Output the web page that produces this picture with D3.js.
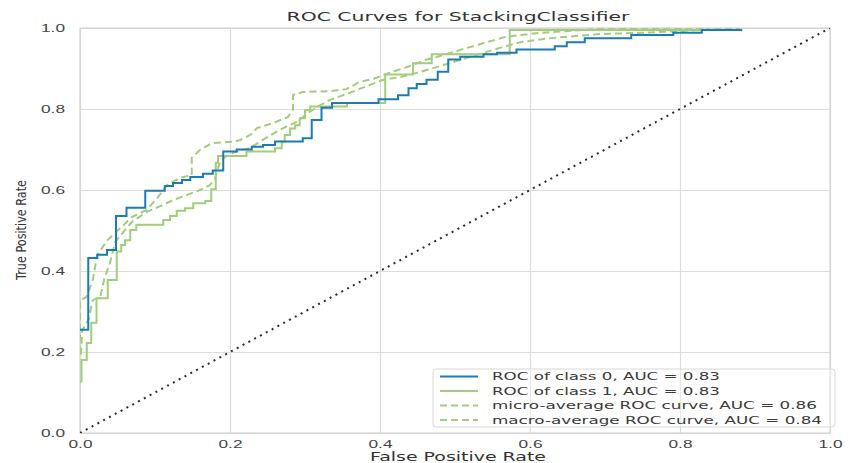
<!DOCTYPE html>
<html>
<head>
<meta charset="utf-8" />
<style>
  body { margin: 0; background: #fff; }
  svg { display: block; font-family: "DejaVu Sans", sans-serif; }
  .grid line { stroke: #dcdcdc; stroke-width: 1.2; }
  .grid .domain { display: none; }
  .grid .tick text { fill: #444; font-size: 11px; }
</style>
</head>
<body>
<svg width="851" height="463"></svg>
<script src="https://d3js.org/d3.v7.min.js"></script>
<script>
// tick labels for both axes
const tickValues = [0, 0.2, 0.4, 0.6, 0.8, 1.0];

// ROC of class 0 (steps: at fpr the tpr jumps to value)
const class0 = [
  [0, 0.255], [0.011, 0.432], [0.023, 0.44], [0.036, 0.452], [0.048, 0.536],
  [0.062, 0.556], [0.087, 0.598], [0.113, 0.61], [0.124, 0.617], [0.136, 0.625],
  [0.147, 0.632], [0.164, 0.64], [0.177, 0.648], [0.191, 0.695], [0.209, 0.70],
  [0.229, 0.707], [0.244, 0.711], [0.26, 0.72], [0.297, 0.728], [0.309, 0.773],
  [0.322, 0.803], [0.336, 0.815], [0.398, 0.824], [0.424, 0.834], [0.438, 0.851],
  [0.449, 0.862], [0.462, 0.872], [0.477, 0.892], [0.491, 0.922], [0.507, 0.929],
  [0.538, 0.935], [0.556, 0.939], [0.582, 0.947], [0.633, 0.955], [0.649, 0.965],
  [0.673, 0.975], [0.735, 0.983], [0.791, 0.988], [0.829, 0.995], [0.883, 0.995]
];

// ROC of class 1
const class1 = [
  [0, 0.127], [0.002, 0.18], [0.009, 0.222], [0.015, 0.272], [0.022, 0.333],
  [0.037, 0.378], [0.049, 0.448], [0.055, 0.464], [0.06, 0.476], [0.067, 0.501],
  [0.075, 0.514], [0.111, 0.526], [0.12, 0.536], [0.129, 0.549], [0.14, 0.555],
  [0.151, 0.567], [0.167, 0.573], [0.175, 0.602], [0.181, 0.667], [0.184, 0.684],
  [0.222, 0.695], [0.26, 0.703], [0.269, 0.72], [0.273, 0.736], [0.28, 0.752],
  [0.287, 0.76], [0.293, 0.777], [0.3, 0.797], [0.307, 0.806], [0.356, 0.815],
  [0.407, 0.885], [0.444, 0.913], [0.469, 0.935], [0.573, 0.995], [0.87, 0.995]
];

// micro-average ROC curve
const microAvg = [
  [0, 0.198], [0, 0.328], [0.009, 0.336], [0.017, 0.378], [0.023, 0.44],
  [0.037, 0.477], [0.051, 0.501], [0.069, 0.533], [0.089, 0.551], [0.103, 0.58],
  [0.116, 0.612], [0.133, 0.63], [0.149, 0.637], [0.149, 0.679], [0.16, 0.699],
  [0.176, 0.716], [0.203, 0.719], [0.213, 0.723], [0.227, 0.736], [0.236, 0.753],
  [0.257, 0.765], [0.277, 0.78], [0.284, 0.798], [0.284, 0.835], [0.297, 0.842],
  [0.333, 0.844], [0.355, 0.849], [0.373, 0.867], [0.391, 0.874], [0.404, 0.884],
  [0.42, 0.894], [0.44, 0.906], [0.46, 0.921], [0.48, 0.931], [0.507, 0.946],
  [0.533, 0.96], [0.567, 0.978], [0.613, 0.988], [0.693, 0.998], [0.839, 1.0]
];

// macro-average ROC curve
const macroAvg = [
  [0.001, 0.193], [0.003, 0.254], [0.011, 0.279], [0.017, 0.328], [0.027, 0.336],
  [0.032, 0.378], [0.04, 0.42], [0.047, 0.472], [0.069, 0.521], [0.089, 0.546],
  [0.107, 0.56], [0.124, 0.575], [0.143, 0.588], [0.16, 0.6], [0.173, 0.612],
  [0.18, 0.627], [0.183, 0.649], [0.187, 0.669], [0.193, 0.681], [0.207, 0.694],
  [0.227, 0.704], [0.243, 0.723], [0.271, 0.753], [0.289, 0.768], [0.304, 0.79],
  [0.316, 0.805], [0.333, 0.822], [0.36, 0.84], [0.383, 0.857], [0.404, 0.872],
  [0.427, 0.879], [0.453, 0.891], [0.48, 0.906], [0.507, 0.921], [0.533, 0.936],
  [0.56, 0.951], [0.587, 0.965], [0.627, 0.975], [0.693, 0.985], [0.747, 0.988],
  [0.827, 0.995], [0.88, 1.0]
];

const legendLabels = [
  "ROC of class 0, AUC = 0.83",
  "ROC of class 1, AUC = 0.83",
  "micro-average ROC curve, AUC = 0.86",
  "macro-average ROC curve, AUC = 0.84"
];

const blue = "#1b7cb3";
const green = "#a1cd7c";

let svg = d3.select("svg");
let margin = { top: 28, right: 21, bottom: 30, left: 80 };
let width = 851, height = 463;
let plotW = width - margin.left - margin.right;   // 750
let plotH = height - margin.top - margin.bottom;  // 405

let x = d3.scaleLinear().domain([0, 1]).range([margin.left, margin.left + plotW]);
let y = d3.scaleLinear().domain([0, 1]).range([margin.top + plotH, margin.top]);

// grid + tick labels
svg.append("g")
  .attr("class", "grid")
  .attr("transform", `translate(0, ${margin.top + plotH})`)
  .call(d3.axisBottom(x).tickValues(tickValues).tickSize(-plotH).tickPadding(7)
    .tickFormat(d3.format(".1f")))
  .call(g => g.selectAll("text").attr("textLength", 24).attr("lengthAdjust", "spacingAndGlyphs"));

svg.append("g")
  .attr("class", "grid")
  .attr("transform", `translate(${margin.left}, 0)`)
  .call(d3.axisLeft(y).tickValues(tickValues).tickSize(-plotW).tickPadding(15)
    .tickFormat(d3.format(".1f")))
  .call(g => g.selectAll("text").attr("textLength", 24).attr("lengthAdjust", "spacingAndGlyphs"));

// frame
svg.append("rect")
  .attr("x", margin.left).attr("y", margin.top)
  .attr("width", plotW).attr("height", plotH)
  .attr("fill", "none").attr("stroke", "#d4d4d4").attr("stroke-width", 1.2);

svg.append("clipPath").attr("id", "plot-clip")
  .append("rect")
  .attr("x", margin.left).attr("y", margin.top)
  .attr("width", plotW).attr("height", plotH);

let plot = svg.append("g").attr("clip-path", "url(#plot-clip)");

let stepLine = d3.line().x(d => x(d[0])).y(d => y(d[1])).curve(d3.curveStepAfter);
let straightLine = d3.line().x(d => x(d[0])).y(d => y(d[1]));

// diagonal
plot.append("path")
  .attr("d", straightLine([[0, 0], [1, 1]]))
  .attr("fill", "none").attr("stroke", "#2a2a2a")
  .attr("stroke-width", 2).attr("stroke-dasharray", "2,4.6");

plot.append("path").attr("d", straightLine(macroAvg))
  .attr("fill", "none").attr("stroke", green).attr("stroke-width", 2)
  .attr("stroke-dasharray", "7,4");
plot.append("path").attr("d", straightLine(microAvg))
  .attr("fill", "none").attr("stroke", green).attr("stroke-width", 2)
  .attr("stroke-dasharray", "7,4");
plot.append("path").attr("d", stepLine(class1))
  .attr("fill", "none").attr("stroke", green).attr("stroke-width", 2);
plot.append("path").attr("d", stepLine(class0))
  .attr("fill", "none").attr("stroke", blue).attr("stroke-width", 2);

// legend
let legend = svg.append("g");
legend.append("rect")
  .attr("x", 433).attr("y", 369).attr("width", 402).attr("height", 58)
  .attr("rx", 3)
  .attr("fill", "#fff").attr("fill-opacity", 0.35)
  .attr("stroke", "#d8d8d8");

let legendStyles = [
  { color: blue, dash: null, len: 228 },
  { color: green, dash: null, len: 228 },
  { color: green, dash: "7,4", len: 325 },
  { color: green, dash: "7,4", len: 330 }
];

legendLabels.forEach((label, i) => {
  let cy = 376.5 + i * 14.5;
  let st = legendStyles[i];
  legend.append("line")
    .attr("x1", 440).attr("x2", 478).attr("y1", cy).attr("y2", cy)
    .attr("stroke", st.color).attr("stroke-width", 2)
    .attr("stroke-dasharray", st.dash);
  legend.append("text")
    .attr("x", 492).attr("y", cy).attr("dy", "0.36em")
    .attr("font-size", 11).attr("fill", "#3a3a3a")
    .attr("textLength", st.len).attr("lengthAdjust", "spacingAndGlyphs")
    .text(label);
});

// title and axis labels
svg.append("text")
  .attr("x", 458).attr("y", 21)
  .attr("text-anchor", "middle").attr("font-size", 13).attr("fill", "#333")
  .attr("textLength", 343).attr("lengthAdjust", "spacingAndGlyphs")
  .text("ROC Curves for StackingClassifier");

svg.append("text")
  .attr("x", 458).attr("y", 461)
  .attr("text-anchor", "middle").attr("font-size", 12).attr("fill", "#333")
  .attr("textLength", 176).attr("lengthAdjust", "spacingAndGlyphs")
  .text("False Positive Rate");

svg.append("text")
  .attr("transform", "translate(26, 230) rotate(-90)")
  .attr("text-anchor", "middle").attr("font-size", 14).attr("fill", "#333")
  .attr("textLength", 100).attr("lengthAdjust", "spacingAndGlyphs")
  .text("True Positive Rate");
</script>
</body>
</html>
